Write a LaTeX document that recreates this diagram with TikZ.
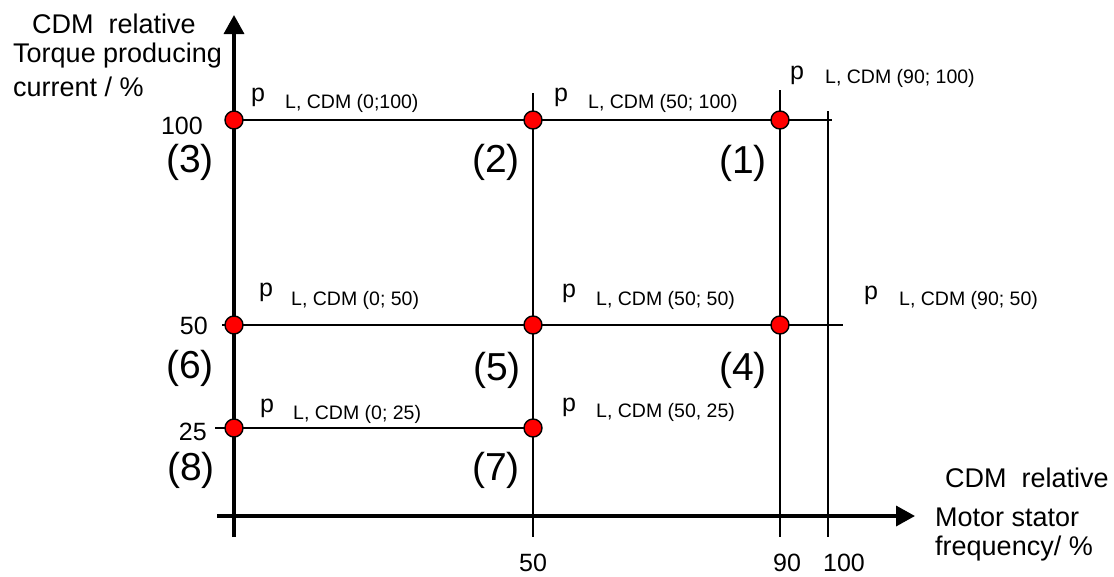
\documentclass[tikz,border=0pt]{standalone}
\usepackage{fontspec}
\setmainfont{Liberation Sans}
\usetikzlibrary{arrows.meta}

\tikzset{
  opdot/.style={circle, fill=red, draw=black, line width=1.4pt, minimum size=18pt, inner sep=0pt},
  axisline/.style={line width=3.5pt, -{Triangle[length=19pt, width=20pt]}},
  gridline/.style={line width=1.8pt},
  numlab/.style={font=\fontsize{39}{39}\selectfont, inner sep=0pt},
  ticklab/.style={font=\fontsize{25}{25}\selectfont, inner sep=0pt},
  plab/.style={font=\fontsize{25}{25}\selectfont, inner sep=0pt},
  sublab/.style={font=\fontsize{19.5}{19.5}\selectfont, inner sep=0pt, anchor=west},
  axlab/.style={font=\fontsize{27}{27}\selectfont, inner sep=0pt, anchor=west},
}

\begin{document}
\begin{tikzpicture}[x=1pt, y=-1pt]
    \useasboundingbox (0, 0) rectangle (1114, 576);
    \coordinate (k1) at (780, 120);
    \coordinate (k2) at (533, 120);
    \coordinate (k3) at (234, 120);
    \coordinate (k4) at (780, 325);
    \coordinate (k5) at (533, 325);
    \coordinate (k6) at (234, 325);
    \coordinate (k7) at (533, 428);
    \coordinate (k8) at (234, 428);
    \coordinate (yb) at (234, 537);
    \coordinate (yt) at (234, 15);
    \coordinate (xl) at (217, 516);
    \coordinate (xr) at (915, 516);
    \coordinate (e100) at (832, 120);
    \coordinate (t50) at (222, 325);
    \coordinate (e50) at (843, 325);
    \coordinate (t25) at (215, 428);
    \coordinate (s50) at (533, 93);
    \coordinate (b50) at (533, 537);
    \coordinate (s90) at (780, 90);
    \coordinate (b90) at (780, 537);
    \coordinate (s100) at (828, 111);
    \coordinate (b100) at (828, 537);
    \draw [gridline] (k3) to (e100);
    \draw [gridline] (t50) to (e50);
    \draw [gridline] (t25) to (k7);
    \draw [gridline] (s50) to (b50);
    \draw [gridline] (s90) to (b90);
    \draw [gridline] (s100) to (b100);
    \draw [axisline] (yb) to (yt);
    \draw [axisline] (xl) to (xr);
    \node [opdot] (d1) at (k1) {};
    \node [opdot] (d2) at (k2) {};
    \node [opdot] (d3) at (k3) {};
    \node [opdot] (d4) at (k4) {};
    \node [opdot] (d5) at (k5) {};
    \node [opdot] (d6) at (k6) {};
    \node [opdot] (d7) at (k7) {};
    \node [opdot] (d8) at (k8) {};
    \node [numlab] (n1) at (743, 163) {(1)};
    \node [numlab] (n2) at (496, 162) {(2)};
    \node [numlab] (n3) at (190, 162) {(3)};
    \node [numlab] (n4) at (743, 370) {(4)};
    \node [numlab] (n5) at (497, 370) {(5)};
    \node [numlab] (n6) at (190, 368) {(6)};
    \node [numlab] (n7) at (496, 470) {(7)};
    \node [numlab] (n8) at (191, 470) {(8)};
    \node [plab] (p1) at (797, 75) {p};
    \node [sublab] (l1) at (825, 78) {L, CDM (90; 100)};
    \node [plab] (p2) at (561, 97) {p};
    \node [sublab] (l2) at (588, 103) {L, CDM (50; 100)};
    \node [plab] (p3) at (258, 97) {p};
    \node [sublab] (l3) at (285, 103) {L, CDM (0;100)};
    \node [plab] (p4) at (871, 295) {p};
    \node [sublab] (l4) at (899, 300) {L, CDM (90; 50)};
    \node [plab] (p5) at (569, 293) {p};
    \node [sublab] (l5) at (596, 300) {L, CDM (50; 50)};
    \node [plab] (p6) at (266, 292) {p};
    \node [sublab] (l6) at (291, 300) {L, CDM (0; 50)};
    \node [plab] (p7) at (569, 407) {p};
    \node [sublab] (l7) at (596, 412) {L, CDM (50, 25)};
    \node [plab] (p8) at (267, 408) {p};
    \node [sublab] (l8) at (293, 414) {L, CDM (0; 25)};
    \node [ticklab, anchor=east] (y100) at (203, 126) {100};
    \node [ticklab, anchor=east] (y50) at (208, 326) {50};
    \node [ticklab, anchor=east] (y25) at (207, 432) {25};
    \node [ticklab] (x50) at (533, 563) {50};
    \node [ticklab] (x90) at (787, 563) {90};
    \node [ticklab] (x100) at (844, 563) {100};
    \node [axlab] (ya) at (32, 24) {CDM\ \ relative};
    \node [axlab] (yb2) at (13, 56) {Torque producing};
    \node [axlab] (yc) at (13, 87) {current / \%};
    \node [axlab] (xa) at (945, 478) {CDM\ \ relative};
    \node [axlab] (xb) at (935, 517) {Motor stator};
    \node [axlab] (xc) at (935, 549) {frequency/ \%};
  \end{tikzpicture}
\end{document}
